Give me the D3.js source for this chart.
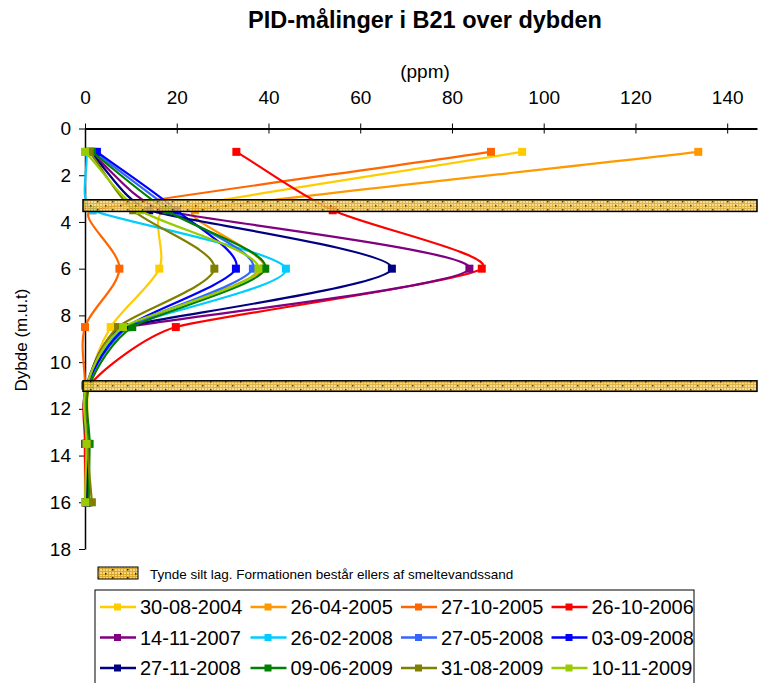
<!DOCTYPE html>
<meta charset="utf-8">
<style>
body { margin: 0; background: #fff; }
svg text { font-family: "Liberation Sans", Arial, sans-serif; fill: #000; }
.axis path, .axis line { stroke: #000; }
</style>
<svg width="762" height="683"></svg>
<script src="https://d3js.org/d3.v7.min.js"></script>
<script>

// depths where PID was measured (m u.t.)
var depths = [1, 3.5, 6, 8.5, 11, 13.5, 16];

var seriesNames = ["30-08-2004", "26-04-2005", "27-10-2005", "26-10-2006",
                   "14-11-2007", "26-02-2008", "27-05-2008", "03-09-2008",
                   "27-11-2008", "09-06-2009", "31-08-2009", "10-11-2009"];

var seriesColors = ["#FFCC00", "#FF9900", "#FF6600", "#FF0000",
                    "#800080", "#00CCFF", "#3366FF", "#0000FF",
                    "#000080", "#008000", "#808000", "#99CC00"];

// ppm, one row per series, same order as depths
var ppm = [
  [95.3, 17.5, 16.2,  5.6, 0.8, 0.8, 0.5],
  [133.7, 24.0, 39.0, 9.0, 0.5, 0.3, 0.3],
  [88.5,  1.5,  7.5,  0.0, 0.0, 0.0, 0.0],
  [33.0, 54.0, 86.5, 19.8, 1.0, 0.0, 0.3],
  [1.0,  17.0, 83.8,  9.5, 0.5, 0.3, 0.3],
  [0.3,   1.7, 43.8,  9.0, 0.5, 0.5, 0.5],
  [2.0,  19.0, 36.6,  9.5, 0.5, 0.5, 0.5],
  [2.6,  20.0, 32.9,  9.0, 0.5, 0.5, 0.5],
  [1.0,  14.0, 66.9,  8.5, 0.3, 0.3, 0.3],
  [1.5,  17.8, 39.3, 10.3, 1.0, 1.0, 0.8],
  [1.0,  10.5, 28.2,  7.2, 0.5, 0.5, 1.5],
  [0.0,  12.0, 37.8,  8.3, 0.3, 0.3, 0.0]
];

// thin silt layers (m u.t.)
var siltTop = [3.05, 10.8];
var siltBottom = [3.55, 11.25];

var xTicks = [0, 20, 40, 60, 80, 100, 120, 140];
var yTicks = [0, 2, 4, 6, 8, 10, 12, 14, 16, 18];

var siltLabel = "Tynde silt lag. Formationen består ellers af smeltevandssand";

var svg = d3.select("svg");

var x = d3.scaleLinear().domain([0, 146.5]).range([85, 757]);
var y = d3.scaleLinear().domain([0, 18]).range([128.5, 549]);

// Excel-like smoothing: tangent along neighbours, sized by the shorter segment
function SmoothCurve(context) { this._context = context; }
SmoothCurve.prototype = {
  areaStart: function() { this._line = 0; },
  areaEnd: function() { this._line = NaN; },
  lineStart: function() { this._p = []; },
  point: function(px, py) { this._p.push([+px, +py]); },
  lineEnd: function() {
    var p = this._p, n = p.length, c = this._context;
    if (!n) return;
    c.moveTo(p[0][0], p[0][1]);
    if (n < 3) { for (var k = 1; k < n; k++) c.lineTo(p[k][0], p[k][1]); return; }
    var len = function(a, b) { return Math.hypot(b[0] - a[0], b[1] - a[1]); };
    var cin = [], cout = [];
    for (var i = 0; i < n; i++) {
      if (i === 0) {
        cout[i] = [p[0][0] + (p[1][0] - p[0][0]) / 3, p[0][1] + (p[1][1] - p[0][1]) / 3];
      } else if (i === n - 1) {
        cin[i] = [p[i][0] - (p[i][0] - p[i - 1][0]) / 3, p[i][1] - (p[i][1] - p[i - 1][1]) / 3];
      } else {
        var l0 = len(p[i - 1], p[i]), l1 = len(p[i], p[i + 1]);
        var f = Math.min(l0, l1) / ((l0 + l1) || 1) / 3;
        var dx = p[i + 1][0] - p[i - 1][0], dy = p[i + 1][1] - p[i - 1][1];
        cin[i] = [p[i][0] - dx * f, p[i][1] - dy * f];
        cout[i] = [p[i][0] + dx * f, p[i][1] + dy * f];
      }
    }
    for (var j = 0; j < n - 1; j++) {
      c.bezierCurveTo(cout[j][0], cout[j][1], cin[j + 1][0], cin[j + 1][1], p[j + 1][0], p[j + 1][1]);
    }
  }
};
function smoothCurve(context) { return new SmoothCurve(context); }

// silt fill pattern
var defs = svg.append("defs");
var pat = defs.append("pattern")
    .attr("id", "silt")
    .attr("patternUnits", "userSpaceOnUse")
    .attr("width", 15).attr("height", 8);
pat.append("rect").attr("width", 15).attr("height", 8).attr("fill", "#F3D67E");
for (var i = 0; i < 15; i += 3) {
  pat.append("rect").attr("x", i).attr("y", 0).attr("width", 1).attr("height", 8).attr("fill", "#D9A82C");
}
for (var j = 0; j < 8; j += 3) {
  pat.append("rect").attr("x", 0).attr("y", j).attr("width", 15).attr("height", 1).attr("fill", "#D9A82C");
}
pat.append("rect").attr("x", 7).attr("y", 1).attr("width", 1.5).attr("height", 1.5).attr("fill", "#222");
pat.append("rect").attr("x", 0).attr("y", 5).attr("width", 1.5).attr("height", 1.5).attr("fill", "#222");

// title
svg.append("text")
    .attr("x", 425).attr("y", 28)
    .attr("text-anchor", "middle")
    .style("font-size", "23.5px").style("font-weight", "bold")
    .text("PID-målinger i B21 over dybden");

svg.append("text")
    .attr("x", 425).attr("y", 78)
    .attr("text-anchor", "middle")
    .style("font-size", "19px")
    .text("(ppm)");

svg.append("text")
    .attr("transform", "translate(27,340) rotate(-90)")
    .attr("text-anchor", "middle")
    .style("font-size", "17px")
    .text("Dybde (m.u.t)");

// axes
var xAxis = svg.append("g")
    .attr("class", "axis")
    .attr("transform", "translate(0," + y(0) + ")")
    .call(d3.axisTop(x).tickValues(xTicks).tickSizeInner(5).tickSizeOuter(0).tickPadding(20));
xAxis.select(".domain").attr("stroke-width", 2);
xAxis.selectAll(".tick line").attr("y2", 5).attr("y1", -5);
xAxis.selectAll(".tick text").style("font-size", "19px").attr("font-family", null);

var yAxis = svg.append("g")
    .attr("class", "axis")
    .attr("transform", "translate(" + x(0) + ",0)")
    .call(d3.axisLeft(y).tickValues(yTicks).tickSizeInner(6).tickSizeOuter(0).tickPadding(8));
yAxis.select(".domain").attr("stroke-width", 1.5);
yAxis.selectAll(".tick text").style("font-size", "19px").attr("font-family", null);

// series
var line = d3.line()
    .x(function(d) { return x(d[0]); })
    .y(function(d) { return y(d[1]); })
    .curve(smoothCurve);

var series = seriesNames.map(function(name, k) {
  return {
    name: name,
    color: seriesColors[k],
    points: ppm[k].map(function(v, i) { return [v, depths[i]]; })
  };
});

var g = svg.append("g");
series.forEach(function(s) {
  var sg = g.append("g");
  sg.append("path")
      .attr("d", line(s.points))
      .attr("fill", "none")
      .attr("stroke", s.color)
      .attr("stroke-width", 2.2);
  sg.selectAll("rect")
      .data(s.points)
      .enter().append("rect")
      .attr("x", function(d) { return x(d[0]) - 4; })
      .attr("y", function(d) { return y(d[1]) - 4; })
      .attr("width", 8).attr("height", 8)
      .attr("fill", s.color);
});

// silt layers drawn over the curves
svg.append("g").selectAll("rect")
    .data(siltTop)
    .enter().append("rect")
    .attr("x", x(0) - 2)
    .attr("width", 757 - x(0) + 2)
    .attr("y", function(d) { return y(d); })
    .attr("height", function(d, i) { return y(siltBottom[i]) - y(d); })
    .attr("fill", "url(#silt)")
    .attr("fill-opacity", 0.85)
    .attr("stroke", "#000")
    .attr("stroke-width", 1.5);

// silt legend
svg.append("rect")
    .attr("x", 98).attr("y", 567).attr("width", 40).attr("height", 12)
    .attr("fill", "url(#silt)").attr("stroke", "#000").attr("stroke-width", 1);
svg.append("text")
    .attr("x", 150).attr("y", 579)
    .style("font-size", "13.5px")
    .text(siltLabel);

// series legend
svg.append("rect")
    .attr("x", 95).attr("y", 590).attr("width", 599).attr("height", 100)
    .attr("fill", "#fff").attr("stroke", "#000").attr("stroke-width", 1);

var leg = svg.append("g").selectAll("g")
    .data(series)
    .enter().append("g")
    .attr("transform", function(d, i) {
      return "translate(" + (100 + (i % 4) * 150.5) + "," + (607 + Math.floor(i / 4) * 30.5) + ")";
    });
leg.append("line")
    .attr("x1", 0).attr("x2", 36)
    .attr("stroke", function(d) { return d.color; })
    .attr("stroke-width", 2.5);
leg.append("rect")
    .attr("x", 14).attr("y", -3.5).attr("width", 7).attr("height", 7)
    .attr("fill", function(d) { return d.color; });
leg.append("text")
    .attr("x", 40).attr("dy", "0.36em")
    .style("font-size", "20px")
    .text(function(d) { return d.name; });

</script>
